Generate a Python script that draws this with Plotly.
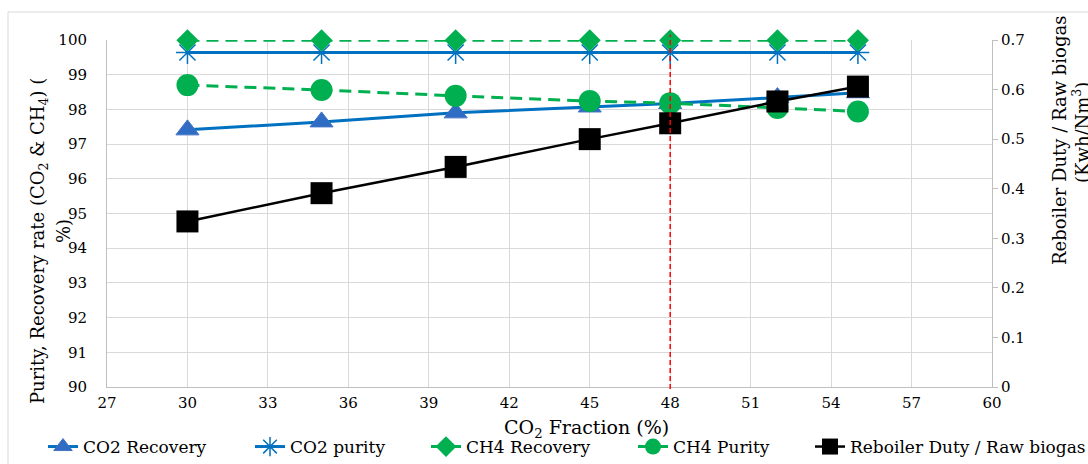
import plotly.graph_objects as go

# ---------------- data ----------------
co2_fraction = [30, 35, 40, 45, 48, 52, 55]
co2_recovery = [97.41, 97.64, 97.90, 98.07, 98.17, 98.34, 98.48]
co2_purity = [99.64, 99.64, 99.64, 99.64, 99.64, 99.64, 99.64]
ch4_recovery = [99.99, 99.99, 99.99, 99.99, 99.99, 99.99, 99.99]
ch4_purity = [98.70, 98.56, 98.39, 98.24, 98.18, 98.04, 97.94]
reboiler_duty = [0.334, 0.391, 0.444, 0.500, 0.532, 0.576, 0.606]

x_ticks = [27, 30, 33, 36, 39, 42, 45, 48, 51, 54, 57, 60]
left_ticks = [90, 91, 92, 93, 94, 95, 96, 97, 98, 99, 100]
right_ticks = [0, 0.1, 0.2, 0.3, 0.4, 0.5, 0.6, 0.7]
right_tick_text = ["0", "0.1", "0.2", "0.3", "0.4", "0.5", "0.6", "0.7"]
marker_line_x = 48

FONT = "DejaVu Serif, serif"
TICK_SIZE = 15
LEGEND_SIZE = 17
TITLE_SIZE = 18
BLUE = "#0070C0"
GREEN = "#00B050"
GRID = "#D9D9D9"
AXIS = "#BFBFBF"

L, R, T, B = 107, 992, 40, 387
W, H = 1088, 464


def px_x(px):
    return (px - L) / (R - L)


def px_y(py):
    return (B - py) / (B - T)


fig = go.Figure()

fig.add_trace(go.Scatter(
    x=co2_fraction, y=co2_recovery, name="CO2 Recovery", mode="lines+markers",
    legend="legend", cliponaxis=False,
    line=dict(color=BLUE, width=3),
    marker=dict(symbol="triangle-up", size=20, color="#2F6DC4",
                line=dict(color="#4472C4", width=1)),
))
fig.add_trace(go.Scatter(
    x=co2_fraction, y=co2_purity, name="CO2 purity", mode="lines+markers",
    legend="legend2", cliponaxis=False,
    line=dict(color=BLUE, width=3),
    marker=dict(symbol="asterisk-open", size=19, color=BLUE,
                line=dict(color=BLUE, width=1.5)),
))
fig.add_trace(go.Scatter(
    x=co2_fraction, y=ch4_recovery, name="CH4 Recovery", mode="lines+markers",
    legend="legend3", cliponaxis=False,
    line=dict(color=GREEN, width=3, dash="12px,7px"),
    marker=dict(symbol="diamond", size=17, color=GREEN),
))
fig.add_trace(go.Scatter(
    x=co2_fraction, y=ch4_purity, name="CH4 Purity", mode="lines+markers",
    legend="legend4", cliponaxis=False,
    line=dict(color=GREEN, width=3, dash="12px,7px"),
    marker=dict(symbol="circle", size=22, color=GREEN),
))
fig.add_trace(go.Scatter(
    x=co2_fraction, y=reboiler_duty, name="Reboiler Duty / Raw biogas",
    mode="lines+markers", yaxis="y2", legend="legend5", cliponaxis=False,
    line=dict(color="black", width=2.5),
    marker=dict(symbol="square", size=22, color="black"),
))

legend_text_starts = [83, 290, 466, 673, 850]


def legend_at(text_px):
    return dict(
        orientation="h", x=px_x(text_px - 40), xanchor="left",
        y=px_y(447), yanchor="middle",
        font=dict(family=FONT, size=LEGEND_SIZE, color="black"),
        bgcolor="rgba(0,0,0,0)", borderwidth=0,
    )


fig.update_layout(
    width=W, height=H,
    margin=dict(l=L, r=W - R, t=T, b=H - B, pad=0, autoexpand=False),
    paper_bgcolor="white", plot_bgcolor="white",
    font=dict(family=FONT, size=TICK_SIZE, color="black"),
    showlegend=True,
    legend=legend_at(legend_text_starts[0]),
    legend2=legend_at(legend_text_starts[1]),
    legend3=legend_at(legend_text_starts[2]),
    legend4=legend_at(legend_text_starts[3]),
    legend5=legend_at(legend_text_starts[4]),
    xaxis=dict(
        range=[27, 60], tickvals=x_ticks, ticktext=[str(v) for v in x_ticks],
        showgrid=True, gridcolor=GRID, gridwidth=1,
        showline=True, linecolor=AXIS, linewidth=1,
        ticks="", zeroline=False, ticklabelstandoff=2,
        tickfont=dict(family=FONT, size=TICK_SIZE, color="black"),
    ),
    yaxis=dict(
        range=[90, 100], tickvals=left_ticks, ticktext=[str(v) for v in left_ticks],
        showgrid=True, gridcolor=GRID, gridwidth=1,
        showline=True, linecolor=AXIS, linewidth=1,
        ticks="", zeroline=False, ticklabelstandoff=16,
        tickfont=dict(family=FONT, size=TICK_SIZE, color="black"),
    ),
    yaxis2=dict(
        range=[0, 0.7], tickvals=right_ticks, ticktext=right_tick_text,
        overlaying="y", side="right", showgrid=False,
        showline=True, linecolor=AXIS, linewidth=1,
        ticks="outside", ticklen=5, tickcolor=AXIS, zeroline=False,
        ticklabelstandoff=0,
        tickfont=dict(family=FONT, size=TICK_SIZE, color="black"),
    ),
)

fig.add_shape(type="line", xref="x", yref="paper",
              x0=marker_line_x, x1=marker_line_x, y0=-0.006, y1=1.015,
              line=dict(color="#FF0000", width=1.5, dash="5px,3px"), layer="above")

fig.add_shape(type="rect", xref="paper", yref="paper",
              x0=px_x(8), x1=px_x(1100), y0=px_y(470), y1=px_y(12),
              line=dict(color=GRID, width=1), fillcolor="rgba(0,0,0,0)", layer="below")

fig.add_annotation(xref="paper", yref="paper", x=px_x(586), y=px_y(428),
                   text="CO<sub>2</sub> Fraction (%)", showarrow=False,
                   font=dict(family=FONT, size=19, color="black"),
                   xanchor="center", yanchor="middle")
fig.add_annotation(xref="paper", yref="paper", x=px_x(39), y=px_y(241),
                   text="Purity, Recovery rate (CO<sub>2</sub> & CH<sub>4</sub>) (",
                   showarrow=False, textangle=-90,
                   font=dict(family=FONT, size=TITLE_SIZE, color="black"),
                   xanchor="center", yanchor="middle")
fig.add_annotation(xref="paper", yref="paper", x=px_x(63), y=px_y(231),
                   text="%)", showarrow=False, textangle=-90,
                   font=dict(family=FONT, size=TITLE_SIZE, color="black"),
                   xanchor="center", yanchor="middle")
fig.add_annotation(xref="paper", yref="paper", x=px_x(1059), y=px_y(141),
                   text="Reboiler Duty / Raw biogas", showarrow=False, textangle=-90,
                   font=dict(family=FONT, size=TITLE_SIZE, color="black"),
                   xanchor="center", yanchor="middle")
fig.add_annotation(xref="paper", yref="paper", x=px_x(1081), y=px_y(133),
                   text="(Kwh/Nm<sup>3</sup>)", showarrow=False, textangle=-90,
                   font=dict(family=FONT, size=TITLE_SIZE, color="black"),
                   xanchor="center", yanchor="middle")

fig.write_html("out.html")
